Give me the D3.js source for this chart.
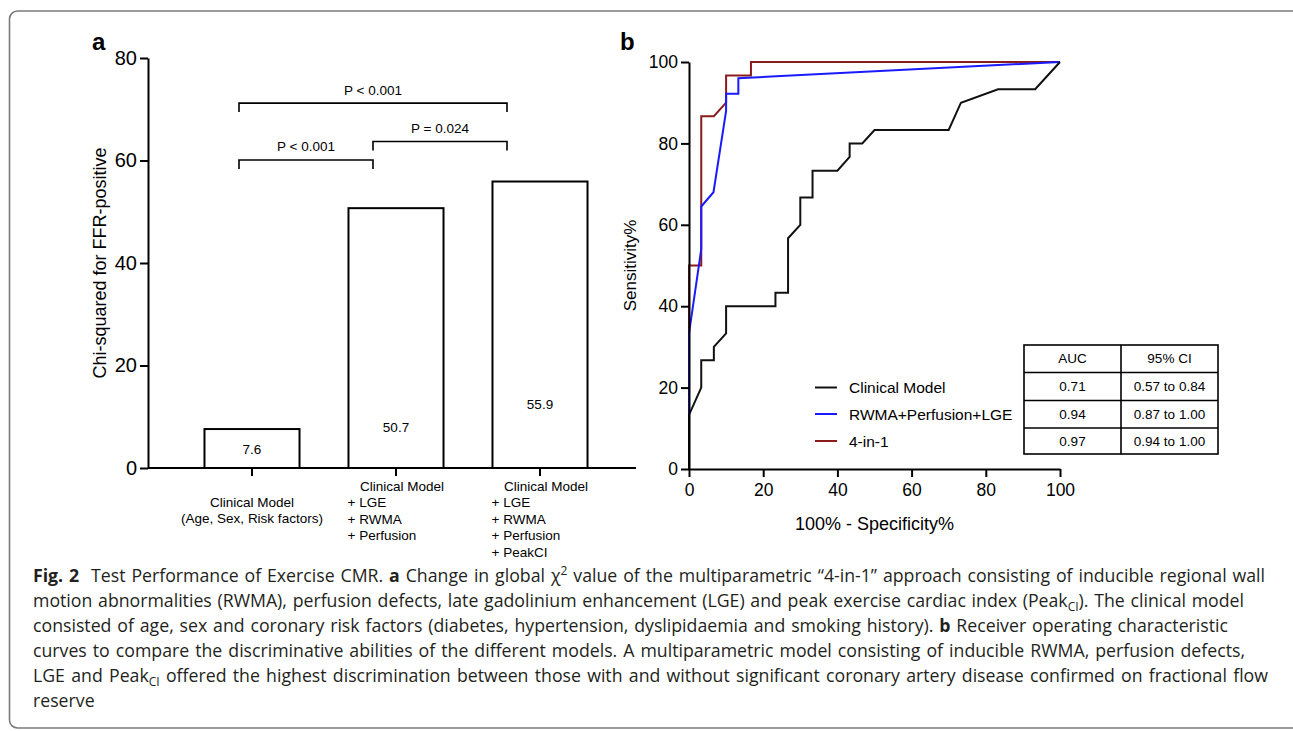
<!DOCTYPE html>
<meta charset="utf-8">
<style>
    body { margin: 0; background: #fff; }
    svg { display: block; }
    .axis path, .axis line { stroke: #000; stroke-width: 2px; }
    .axis text { font-family: "Liberation Sans", Arial, sans-serif; font-size: 17.5px; fill: #000; }
    .axis.big text { font-size: 20px; }
    .chart text { font-family: "Liberation Sans", Arial, sans-serif; fill: #000; }
    .roc { fill: none; stroke-width: 2px; stroke-linejoin: miter; }
    .caption text { font-family: "Open Sans", "Noto Sans", sans-serif; fill: #231f20; }
</style>
<body>
<svg width="1293" height="731"></svg>
<script src="https://d3js.org/d3.v7.min.js"></script>
<script>

    // ---- panel a data
    var barCats = ["clinical", "lge_rwma_perf", "four_in_one"];
    var chiValues = [7.6, 50.7, 55.9];
    var barLabelLines = [
        ["Clinical Model", "(Age, Sex, Risk factors)"],
        ["Clinical Model", "+ LGE", "+ RWMA", "+ Perfusion"],
        ["Clinical Model", "+ LGE", "+ RWMA", "+ Perfusion", "+ PeakCI"]
    ];
    var pFrom = [0, 1, 0];
    var pTo = [1, 2, 2];
    var pText = ["P < 0.001", "P = 0.024", "P < 0.001"];
    var pLevel = [60.1, 63.7, 71.2];
    var chiTicks = [0, 20, 40, 60, 80];

    // ---- panel b data (100% - specificity, sensitivity)
    var seriesNames = ["Clinical Model", "RWMA+Perfusion+LGE", "4-in-1"];
    var seriesColors = ["#111111", "#1a1aff", "#8b1c1c"];
    var clinicalFpr = [0, 0, 3.3, 3.3, 6.7, 6.7, 10, 10, 23.3, 23.3, 26.7, 26.7, 30, 30, 33.3, 33.3, 40, 43.3, 43.3, 46.7, 50, 70, 73.3, 83.3, 93.3, 100];
    var clinicalSens = [0, 13.3, 20, 26.7, 26.7, 30, 33.3, 40, 40, 43.3, 43.3, 56.7, 60, 66.7, 66.7, 73.3, 73.3, 76.7, 80, 80, 83.3, 83.3, 90, 93.3, 93.3, 100];
    var rwmaFpr = [0, 0, 3.3, 3.3, 6.6, 10, 10, 13.3, 13.3, 23.5, 100];
    var rwmaSens = [0, 33.3, 54, 64.5, 68, 88, 92.2, 92.2, 96, 96.5, 100];
    var fourFpr = [0, 0, 3.3, 3.3, 6.7, 10, 10, 16.7, 16.7, 100];
    var fourSens = [0, 50, 50, 86.7, 86.7, 90, 96.7, 96.7, 100, 100];
    var aucValues = ["0.71", "0.94", "0.97"];
    var aucCI = ["0.57 to 0.84", "0.87 to 1.00", "0.94 to 1.00"];
    var rocTicks = [0, 20, 40, 60, 80, 100];

    var svg = d3.select("svg");

    // figure frame (open on the right / bottom)
    svg.append("rect")
        .attr("x", 9.5).attr("y", 11)
        .attr("width", 1320).attr("height", 717)
        .attr("rx", 8)
        .attr("fill", "none")
        .attr("stroke", "#7a7a7a")
        .attr("stroke-width", 1.6);

    var chart = svg.append("g").attr("class", "chart");

    // ================= panel a =================
    var yA = d3.scaleLinear().domain([0, 80]).range([468, 58]);
    var xA = d3.scaleBand().domain(barCats).range([180, 612])
        .paddingInner(0.34).paddingOuter(0.17);

    chart.append("text").attr("x", 92).attr("y", 50)
        .style("font-size", "24px").style("font-weight", "bold").text("a");

    chart.append("g")
        .attr("class", "axis big")
        .attr("transform", "translate(148,0)")
        .call(d3.axisLeft(yA).tickValues(chiTicks).tickSize(8).tickSizeOuter(0).tickPadding(3));

    chart.append("line")
        .attr("x1", 148).attr("x2", 636)
        .attr("y1", yA(0)).attr("y2", yA(0))
        .attr("stroke", "#000").attr("stroke-width", 2);

    chart.append("text")
        .attr("transform", "translate(100," + yA(40) + ") rotate(-90)")
        .attr("text-anchor", "middle")
        .attr("dominant-baseline", "central")
        .style("font-size", "18px")
        .text("Chi-squared for FFR-positive");

    chart.selectAll(".bar")
        .data(chiValues)
        .enter().append("rect")
        .attr("class", "bar")
        .attr("x", function (d, i) { return xA(barCats[i]); })
        .attr("y", function (d) { return yA(d); })
        .attr("width", xA.bandwidth())
        .attr("height", function (d) { return yA(0) - yA(d); })
        .attr("fill", "#fff")
        .attr("stroke", "#000")
        .attr("stroke-width", 2);

    var valueLift = [19, 41, 64];
    chart.selectAll(".barval")
        .data(chiValues)
        .enter().append("text")
        .attr("x", function (d, i) { return xA(barCats[i]) + xA.bandwidth() / 2; })
        .attr("y", function (d, i) { return yA(0) - valueLift[i]; })
        .attr("text-anchor", "middle")
        .attr("dominant-baseline", "central")
        .style("font-size", "13.5px")
        .text(function (d) { return d.toFixed(1); });

    // category ticks and labels
    barCats.forEach(function (c, i) {
        var cx = xA(c) + xA.bandwidth() / 2;
        chart.append("line")
            .attr("x1", cx).attr("x2", cx)
            .attr("y1", yA(0)).attr("y2", yA(0) + 8)
            .attr("stroke", "#000").attr("stroke-width", 2);
        var lines = barLabelLines[i];
        lines.forEach(function (t, j) {
            var txt = chart.append("text")
                .attr("dominant-baseline", "central")
                .style("font-size", "13.5px")
                .text(t);
            if (i === 0) {
                txt.attr("x", cx).attr("y", 502 + j * 16.6).attr("text-anchor", "middle");
            } else if (j === 0) {
                txt.attr("x", cx + 6).attr("y", 486).attr("text-anchor", "middle");
            } else {
                txt.attr("x", cx - 48.5).attr("y", 486 + j * 16.6).attr("text-anchor", "start");
            }
        });
    });

    // significance brackets
    function bx(i) { return xA(barCats[i]) + xA.bandwidth() / 2 - 13 - 10 * i; }
    pText.forEach(function (t, k) {
        var x1 = bx(pFrom[k]), x2 = bx(pTo[k]), yy = yA(pLevel[k]);
        chart.append("path")
            .attr("d", "M" + x1 + "," + (yy + 9) + "V" + yy + "H" + x2 + "V" + (yy + 9))
            .attr("fill", "none").attr("stroke", "#000").attr("stroke-width", 1.6);
        chart.append("text")
            .attr("x", (x1 + x2) / 2).attr("y", yy - 13)
            .attr("text-anchor", "middle")
            .attr("dominant-baseline", "central")
            .style("font-size", "13.5px")
            .text(t);
    });

    // ================= panel b =================
    var xB = d3.scaleLinear().domain([0, 100]).range([689, 1060]);
    var yB = d3.scaleLinear().domain([0, 100]).range([469, 62]);

    chart.append("text").attr("x", 620).attr("y", 50)
        .style("font-size", "24px").style("font-weight", "bold").text("b");

    var line = d3.line()
        .x(function (d) { return xB(d[0]); })
        .y(function (d) { return yB(d[1]); });

    var rocSeries = [
        d3.zip(clinicalFpr, clinicalSens),
        d3.zip(rwmaFpr, rwmaSens),
        d3.zip(fourFpr, fourSens)
    ];

    // draw 4-in-1 first so blue and black sit over it as in the original
    [2, 1, 0].forEach(function (i) {
        chart.append("path")
            .datum(rocSeries[i])
            .attr("class", "roc")
            .attr("stroke", seriesColors[i])
            .attr("d", line);
    });

    chart.append("g")
        .attr("class", "axis")
        .attr("transform", "translate(0," + yB(0) + ")")
        .call(d3.axisBottom(xB).tickValues(rocTicks).tickSize(8).tickSizeOuter(0).tickPadding(7));

    chart.append("g")
        .attr("class", "axis")
        .attr("transform", "translate(" + xB(0) + ",0)")
        .call(d3.axisLeft(yB).tickValues(rocTicks).tickSize(8).tickSizeOuter(0).tickPadding(3));

    chart.append("text")
        .attr("transform", "translate(630," + yB(50) + ") rotate(-90)")
        .attr("text-anchor", "middle")
        .attr("dominant-baseline", "central")
        .style("font-size", "17px")
        .text("Sensitivity%");

    chart.append("text")
        .attr("x", xB(50)).attr("y", 524)
        .attr("text-anchor", "middle")
        .attr("dominant-baseline", "central")
        .style("font-size", "18px")
        .text("100% - Specificity%");

    // legend
    var legendY = [387.5, 414, 441];
    seriesNames.forEach(function (n, i) {
        chart.append("line")
            .attr("x1", 815).attr("x2", 837)
            .attr("y1", legendY[i]).attr("y2", legendY[i])
            .attr("stroke", seriesColors[i]).attr("stroke-width", 2);
        chart.append("text")
            .attr("x", 849).attr("y", legendY[i])
            .attr("dominant-baseline", "central")
            .style("font-size", "15.5px")
            .text(n);
    });

    // AUC table
    var colX = [1024, 1121, 1218];
    var rowY = [345, 372.5, 400.5, 428, 454];
    var table = chart.append("g");
    table.append("rect")
        .attr("x", colX[0]).attr("y", rowY[0])
        .attr("width", colX[2] - colX[0]).attr("height", rowY[4] - rowY[0])
        .attr("fill", "none").attr("stroke", "#000").attr("stroke-width", 1.6);
    table.append("line")
        .attr("x1", colX[1]).attr("x2", colX[1]).attr("y1", rowY[0]).attr("y2", rowY[4])
        .attr("stroke", "#000").attr("stroke-width", 1.6);
    rowY.slice(1, 4).forEach(function (y) {
        table.append("line")
            .attr("x1", colX[0]).attr("x2", colX[2]).attr("y1", y).attr("y2", y)
            .attr("stroke", "#000").attr("stroke-width", 1.6);
    });
    var tableRows = [["AUC", "95% CI"]].concat(d3.zip(aucValues, aucCI));
    tableRows.forEach(function (r, i) {
        r.forEach(function (t, j) {
            table.append("text")
                .attr("x", (colX[j] + colX[j + 1]) / 2)
                .attr("y", (rowY[i] + rowY[i + 1]) / 2)
                .attr("text-anchor", "middle")
                .attr("dominant-baseline", "central")
                .style("font-size", "13.5px")
                .text(t);
        });
    });

    // ================= caption =================
    // each line: list of [text, style] runs; b = bold, sub/sup = small shifted
    var captionLines = [
        [["Fig. 2", "b"], ["  Test Performance of Exercise CMR. ", ""], ["a", "b"], [" Change in global χ", ""], ["2", "sup"], [" value of the multiparametric \u201c4-in-1\u201d approach consisting of inducible regional wall", ""]],
        [["motion abnormalities (RWMA), perfusion defects, late gadolinium enhancement (LGE) and peak exercise cardiac index (Peak", ""], ["CI", "sub"], ["). The clinical model", ""]],
        [["consisted of age, sex and coronary risk factors (diabetes, hypertension, dyslipidaemia and smoking history). ", ""], ["b", "b"], [" Receiver operating characteristic", ""]],
        [["curves to compare the discriminative abilities of the different models. A multiparametric model consisting of inducible RWMA, perfusion defects,", ""]],
        [["LGE and Peak", ""], ["CI", "sub"], [" offered the highest discrimination between those with and without significant coronary artery disease confirmed on fractional flow", ""]],
        [["reserve", ""]]
    ];
    var captionRight = [1265, 1244, 1228, 1245, 1268, null];

    var caption = svg.append("g").attr("class", "caption");
    var capTexts = [];
    captionLines.forEach(function (runs, i) {
        var t = caption.append("text")
            .attr("x", 33).attr("y", 582 + i * 25)
            .attr("xml:space", "preserve")
            .style("white-space", "pre")
            .style("font-size", "16px");
        runs.forEach(function (r, k) {
            var s = t.append("tspan").text(r[0]);
            if (r[1] === "b") s.style("font-weight", "bold");
            if (r[1] === "sub") s.style("font-size", "0.68em").attr("dy", 4);
            if (r[1] === "sup") s.style("font-size", "0.68em").attr("dy", -7);
            if (k > 0 && runs[k - 1][1] === "sub") s.attr("dy", -4);
            if (k > 0 && runs[k - 1][1] === "sup") s.attr("dy", 7);
        });
        capTexts.push(t);
    });

    // pick a font size that fits the tightest line, then justify with word spacing
    var fit = d3.min(capTexts, function (t, i) {
        return captionRight[i] ? (captionRight[i] - 33) / t.node().getComputedTextLength() : Infinity;
    });
    var capSize = 16 * fit * 0.985;
    capTexts.forEach(function (t, i) {
        t.style("font-size", capSize + "px");
        if (captionRight[i]) {
            var natural = t.node().getComputedTextLength();
            var spaces = captionLines[i].map(function (r) { return r[0]; }).join("").split(" ").length - 1;
            t.style("word-spacing", ((captionRight[i] - 33 - natural) / spaces) + "px");
        }
    });

</script>
</body>
